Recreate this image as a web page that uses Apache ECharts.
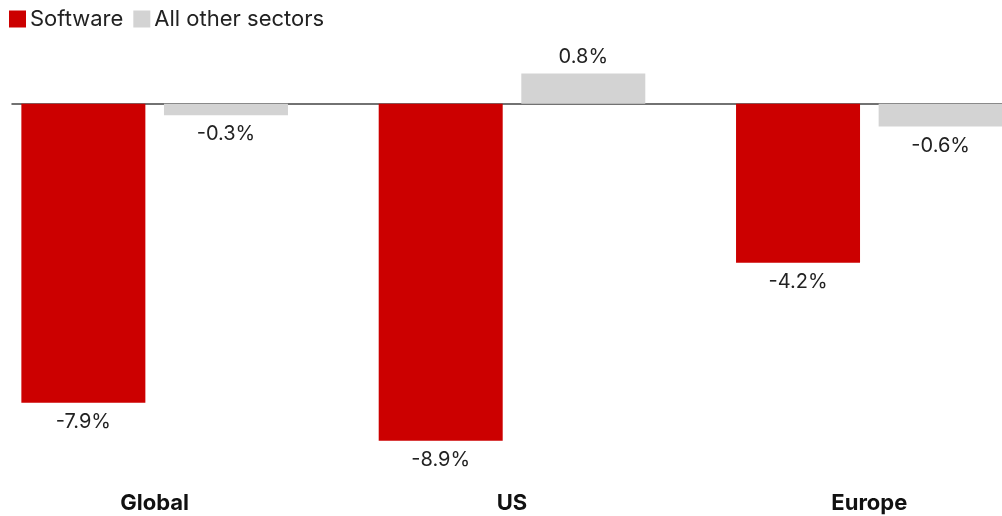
<!DOCTYPE html>
<html>
<head>
<meta charset="utf-8">
<script src="https://cdn.jsdelivr.net/npm/echarts@6/dist/echarts.min.js"></script>
<style>
  html, body { margin: 0; padding: 0; background: #fff; overflow: hidden; width: 1002px; height: 516px; }
  /* the plot runs a little past both page edges, so the outer categories are clipped */
  #chart { position: absolute; left: -24px; top: 0; width: 1072px; height: 516px; }
</style>
</head>
<body>
<div id="chart"></div>
<script>
// Regions and their returns (%)
const categories = ['Global', 'US', 'Europe'];
const softwareValues = [-7.9, -8.9, -4.2];
const otherSectorValues = [-0.3, 0.8, -0.6];
const seriesNames = ['Software', 'All other sectors'];

const FONT = 'Inter, "Noto Sans", sans-serif';
const TEXT = '#222';
const Y_MIN = -9, Y_MAX = 1;

// Label sits above positive bars and below negative ones
function withLabels(values) {
  return values.map(v => ({
    value: v,
    label: v >= 0 ? { position: 'top', distance: 7 } : { position: 'bottom', distance: 9 }
  }));
}

const labelStyle = {
  show: true,
  fontFamily: FONT,
  fontSize: 20,
  color: TEXT,
  formatter: p => p.value.toFixed(1) + '%'
};

const chart = echarts.init(document.getElementById('chart'), null, { renderer: 'canvas' });
chart.setOption({
  animation: false,
  backgroundColor: '#fff',
  legend: {
    left: 28, top: 3,
    icon: 'rect',
    itemWidth: 17, itemHeight: 17, itemGap: 10,
    textStyle: { fontFamily: FONT, fontSize: 22, color: TEXT, padding: [0, 0, 0, -1] },
    data: seriesNames
  },
  grid: [
    { left: 0, right: 0, top: 66, bottom: 71.5 },
    // second grid only carries the zero baseline across the visible width
    { left: 36, right: 46, top: 66, bottom: 71.5 }
  ],
  xAxis: [
    {
      type: 'category', data: categories, gridIndex: 0,
      axisLine: { show: false }, axisTick: { show: false },
      axisLabel: { margin: 48, fontFamily: FONT, fontSize: 22, fontWeight: 'bold', color: '#111' }
    },
    {
      type: 'value', gridIndex: 1, min: 0, max: 1,
      axisLine: { show: true, onZero: true, lineStyle: { color: '#444', width: 1.5 } },
      axisTick: { show: false }, axisLabel: { show: false }, splitLine: { show: false }
    }
  ],
  yAxis: [
    { type: 'value', gridIndex: 0, min: Y_MIN, max: Y_MAX, show: false, splitLine: { show: false } },
    { type: 'value', gridIndex: 1, min: Y_MIN, max: Y_MAX, show: false, splitLine: { show: false } }
  ],
  series: [
    {
      name: seriesNames[0], type: 'bar', xAxisIndex: 0, yAxisIndex: 0,
      data: withLabels(softwareValues),
      itemStyle: { color: '#CC0000' },
      barWidth: 124, barGap: '15%',
      label: labelStyle, z: 1
    },
    {
      name: seriesNames[1], type: 'bar', xAxisIndex: 0, yAxisIndex: 0,
      data: withLabels(otherSectorValues),
      itemStyle: { color: '#D3D3D3' },
      barWidth: 124, barGap: '15%',
      label: labelStyle, z: 1
    }
  ]
});
</script>
</body>
</html>
